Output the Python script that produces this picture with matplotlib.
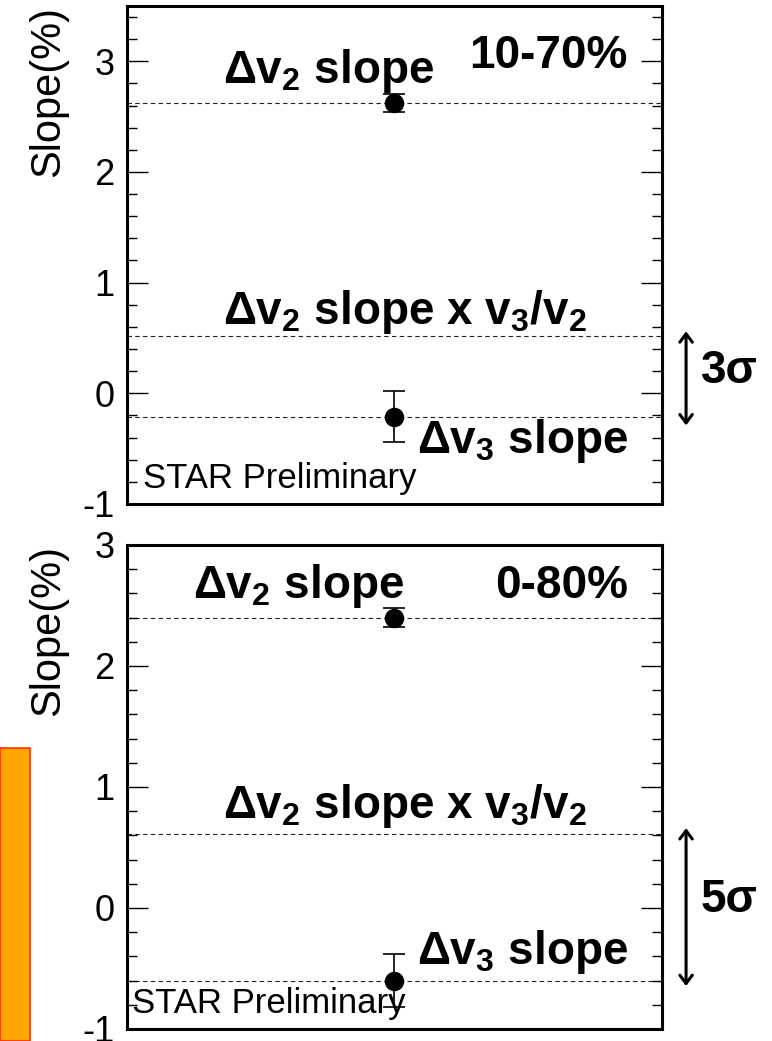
import matplotlib

matplotlib.use("Agg")

import matplotlib.pyplot as plt
from matplotlib.patches import Rectangle
from matplotlib.ticker import MultipleLocator

plt.rcParams["font.family"] = ["Liberation Sans", "DejaVu Sans"]
plt.rcParams["mathtext.default"] = "regular"
plt.rcParams["axes.unicode_minus"] = False

# slope values (%) for the two centrality ranges
centralities = ["10-70%", "0-80%"]
dv2_slope = [2.62, 2.40]
dv2_err = [0.08, 0.08]
dv3_slope = [-0.21, -0.60]
dv3_err = [0.23, 0.22]
dv2_scaled = [0.52, 0.61]  # dv2 slope x v3/v2
significance = ["3σ", "5σ"]
y_ranges = [(-1, 3.5), (-1, 3)]

# text placement per panel: (x axes fraction, y data)
label_pos = [
    {"v2": (0.179, 2.80), "cent": (0.639, 2.94), "scaled": (0.179, 0.63),
     "v3": (0.542, -0.54), "star": (0.030, -0.86), "arrow": (0.56, -0.29),
     "sig": 0.20},
    {"v2": (0.123, 2.56), "cent": (0.688, 2.56), "scaled": (0.179, 0.74),
     "v3": (0.542, -0.46), "star": (0.009, -0.87), "arrow": (0.66, -0.645),
     "sig": 0.07},
]

fig = plt.figure(figsize=(7.72, 10.41), dpi=100)
axes = [
    fig.add_axes([0.1645, 0.5159, 0.693, 0.4784]),
    fig.add_axes([0.1645, 0.01153, 0.693, 0.465]),
]

# orange side box
fig.patches.append(Rectangle((0, 0), 30 / 772, 293 / 1041, transform=fig.transFigure,
                             facecolor="#ffa500", edgecolor="#ff3300", lw=1.2))

bold = dict(fontsize=33, fontweight="bold", color="black")

for i, ax in enumerate(axes):
    pos = label_pos[i]
    ax.set_xlim(0, 2)
    ax.set_ylim(*y_ranges[i])

    for val in (dv2_slope[i], dv2_scaled[i], dv3_slope[i]):
        ax.axhline(val, color="#222222", lw=0.8, ls=(0, (4, 3)), zorder=1)

    ax.errorbar([1, 1], [dv2_slope[i], dv3_slope[i]], yerr=[dv2_err[i], dv3_err[i]],
                fmt="o", color="black", ms=13, capsize=8, elinewidth=1.2,
                capthick=1.2, zorder=3)

    ax.text(*pos["v2"], "Δv$_2$ slope", transform=ax.get_yaxis_transform(), **bold)
    ax.text(*pos["cent"], centralities[i], transform=ax.get_yaxis_transform(), **bold)
    ax.text(*pos["scaled"], "Δv$_2$ slope x v$_3$/v$_2$",
            transform=ax.get_yaxis_transform(), **bold)
    ax.text(*pos["v3"], "Δv$_3$ slope", transform=ax.get_yaxis_transform(), **bold)
    ax.text(*pos["star"], "STAR Preliminary", transform=ax.get_yaxis_transform(),
            fontsize=25, color="black")

    # double arrow marking the gap between the scaled line and dv3 slope
    top, bottom = pos["arrow"]
    ax.annotate("", xy=(1.045, top), xytext=(1.045, bottom),
                xycoords=("axes fraction", "data"), textcoords=("axes fraction", "data"),
                arrowprops=dict(arrowstyle="<->,head_length=0.6,head_width=0.45",
                                color="black", lw=2.2, shrinkA=0, shrinkB=0),
                annotation_clip=False)
    ax.text(1.072, pos["sig"], significance[i], transform=ax.get_yaxis_transform(),
            va="center", clip_on=False, **bold)

    ax.yaxis.set_major_locator(MultipleLocator(1))
    ax.yaxis.set_minor_locator(MultipleLocator(0.2))
    ax.tick_params(axis="y", which="both", direction="in", left=True, right=True,
                   labelsize=26, pad=9, width=1)
    ax.tick_params(axis="y", which="major", length=15)
    ax.tick_params(axis="y", which="minor", length=7)
    ax.tick_params(axis="x", which="both", bottom=False, top=False, labelbottom=False)
    for spine in ax.spines.values():
        spine.set_linewidth(2.2)

    ax.set_ylabel("Slope(%)", fontsize=30, loc="top", labelpad=10)

fig.savefig("out.png", dpi=100)
